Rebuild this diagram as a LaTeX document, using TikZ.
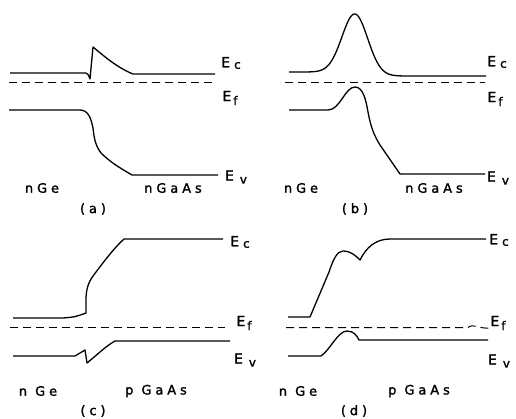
\documentclass[tikz,border=0pt]{standalone}
\usepackage{fontspec}
\setmainfont{DejaVu Sans}[LetterSpace=30, FakeBold=1.6]
\newfontfamily\labfont{DejaVu Sans}[FakeBold=1.6]
\begin{document}
\begin{tikzpicture}[x=1pt,y=-1pt,
  band/.style={line width=1.3pt, line join=round},
  fermi/.style={line width=1pt, dash pattern=on 8pt off 5pt},
  txt/.style={font=\fontsize{13}{15}\selectfont, inner sep=0pt},
  en/.style={font=\labfont\fontsize{14}{16}\selectfont, inner sep=0pt}]
\useasboundingbox (0,0) rectangle (516,418);
\newcommand{\subsz}{\fontsize{12}{14}\selectfont}
\newcommand{\Ec}{E\hspace{4pt}\raisebox{-1.5pt}{\subsz c}}
\newcommand{\Ef}{E\hspace{2pt}\raisebox{-4pt}{\subsz f}}
\newcommand{\Ev}{E\hspace{6pt}\raisebox{-3pt}{\subsz v}}

% ---------- (a) ----------
\draw[band] (10,73) -- (86,73) .. controls (88,73) and (89,76) .. (90,79)
  -- (93,47) .. controls (105,57) and (118,68) .. (133,74) -- (215,74);
\draw[fermi] (9,82.5) -- (213,82.5);
\draw[band] (9,110) -- (80,110) .. controls (88,110) and (91,118) .. (93,128)
  .. controls (94,137) and (95,145) .. (101,153) .. controls (110,162) and (120,168) .. (132,175) -- (218,175);
\node[en] (aEc) at (231,63) {\Ec};
\node[en] (aEf) at (230,98) {\Ef};
\node[en] (aEv) at (236,177) {\Ev};
\node[txt] (aL) at (42,188) {nGe};
\node[txt] (aR) at (173,188) {nGaAs};
\node[txt] (aCap) at (93,209) {(a)};

% ---------- (b) ----------
\draw[band] (289,72) -- plot[domain=300:420,samples=120]
  (\x,{74+2*tanh((\x-355)/15)-60*exp(-(\x-355)*(\x-355)/330)}) -- (486,76);
\draw[fermi] (285,82.5) -- (485,82.5);
\draw[band] (289,110) -- (328,110) .. controls (340,110) and (345,87) .. (355,87)
  .. controls (363,87) and (366,100) .. (368,112) .. controls (371,128) and (374,135) .. (380,145)
  -- (400,174) -- (485,174);
\node[en] (bEc) at (497,62) {\Ec};
\node[en] (bEf) at (495,99) {\Ef};
\node[en] (bEv) at (498,178) {\Ev};
\node[txt] (bL) at (301,188) {nGe};
\node[txt] (bR) at (434,188) {nGaAs};
\node[txt] (bCap) at (355,209) {(b)};

% ---------- (c) ----------
\draw[band] (13,318) -- (63,318) .. controls (75,317) .. (86,313) -- (86,300)
  .. controls (86,290) and (88,283) .. (93,276) .. controls (105,260) and (115,247) .. (124,239) -- (223,239);
\draw[fermi] (10,327.5) -- (225,327.5);
\draw[band] (13,356) -- (75,356) -- (85,350) -- (87,363)
  .. controls (98,354) and (106,346) .. (115,341) -- (230,341);
\node[en] (cEc) at (240,242) {\Ec};
\node[en] (cEf) at (244,323) {\Ef};
\node[en] (cEv) at (245,360) {\Ev};
\node[txt] (cL) at (38,391) {n Ge};
\node[txt] (cR) at (156,391) {p GaAs};
\node[txt] (cCap) at (93,411) {(c)};

% ---------- (d) ----------
\draw[band] (288,317) -- (310,317) -- (329,272) .. controls (333,260) and (337,251) .. (343,251)
  .. controls (351,251) and (356,256) .. (360,260) .. controls (366,248) and (375,239) .. (390,239) -- (486,239);
\draw[fermi] (286,327.5) -- (468,327.5) .. controls (474,323) and (478,329) .. (490,328);
\draw[band] (288,356) -- (321,356) .. controls (330,350) and (338,331) .. (347,331)
  .. controls (354,331) and (357,336) .. (359,340) -- (488,340);
\node[en] (dEc) at (499,240) {\Ec};
\node[en] (dEf) at (498,323) {\Ef};
\node[en] (dEv) at (499,361) {\Ev};
\node[txt] (dL) at (298,391) {n Ge};
\node[txt] (dR) at (419,391) {p GaAs};
\node[txt] (dCap) at (354,411) {(d)};
\end{tikzpicture}
\end{document}
